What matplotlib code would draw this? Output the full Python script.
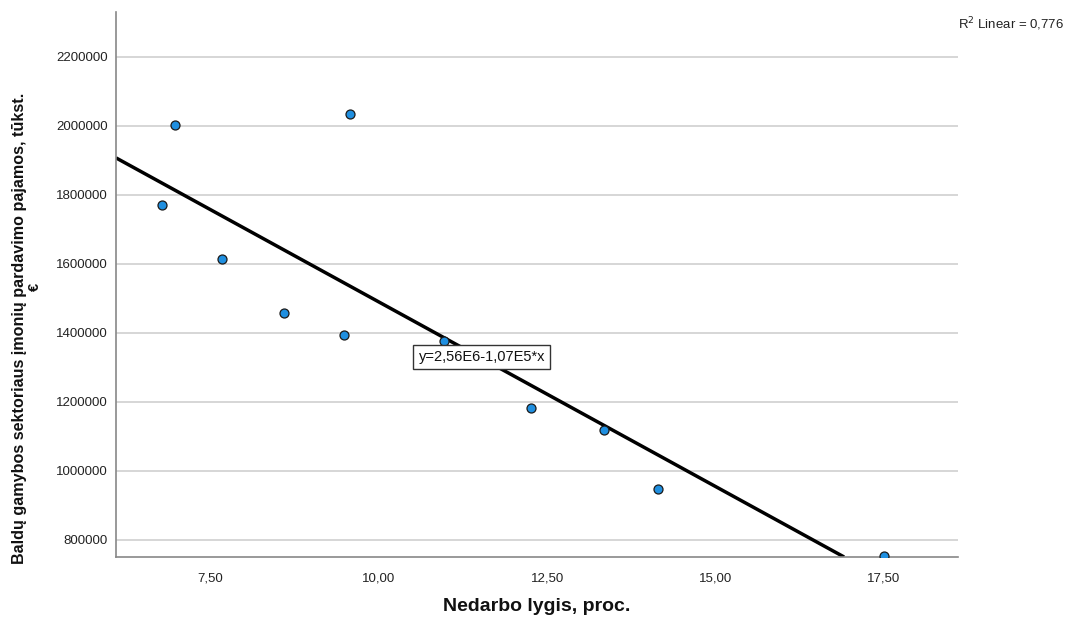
import matplotlib
matplotlib.use("Agg")
import matplotlib.pyplot as plt
import numpy as np
from matplotlib.ticker import FuncFormatter

unemployment = [6.79, 6.98, 7.68, 8.59, 9.48, 9.57, 10.97, 12.26, 13.35, 14.15, 17.50]
revenue = [1771000, 2003000, 1614000, 1458000, 1394000, 2035000, 1377000, 1183000, 1119000, 948000, 753000]
intercept = 2.56e6
slope = -1.07e5
x_ticks = [7.5, 10.0, 12.5, 15.0, 17.5]
y_ticks = [800000, 1000000, 1200000, 1400000, 1600000, 1800000, 2000000, 2200000]

plt.rcParams['font.family'] = ['Liberation Sans', 'DejaVu Sans']
fig = plt.figure(figsize=(10.70, 6.22), dpi=100)
ax = fig.add_axes([116/1070, 1 - 557/622, (958-116)/1070, (557-12)/622])

xmin, xmax = 6.10, 18.6
ymin, ymax = 750700, 2330000
ax.set_xlim(xmin, xmax)
ax.set_ylim(ymin, ymax)

for yt in y_ticks:
    ax.axhline(yt, color='#d0d0d0', lw=1.2, zorder=1)

xs = np.array([xmin, (ymin - intercept) / slope])
ax.plot(xs, intercept + slope * xs, color='black', lw=2.5, zorder=2, solid_capstyle='butt')

ax.scatter(unemployment, revenue, s=42, color='#1f8fe0', edgecolor='#1a1a1a', linewidth=0.9, zorder=3, clip_on=True)

ax.set_xticks(x_ticks)
ax.set_yticks(y_ticks)
ax.xaxis.set_major_formatter(FuncFormatter(lambda v, p: f"{v:.2f}".replace('.', ',')))
ax.yaxis.set_major_formatter(FuncFormatter(lambda v, p: f"{int(v)}"))
ax.tick_params(length=0, labelsize=9.5, colors='#222222')
ax.tick_params(axis='y', pad=6)
ax.tick_params(axis='x', pad=11)

for s in ['top', 'right']:
    ax.spines[s].set_visible(False)
for s in ['left', 'bottom']:
    ax.spines[s].set_color('#888888')
    ax.spines[s].set_linewidth(1.2)

ax.set_xlabel("Nedarbo lygis, proc.", fontsize=14, fontweight='bold', color='#111111', labelpad=10)
fig.text(20/1070, 1 - 328/622, "Baldų gamybos sektoriaus įmonių pardavimo pajamos, tūkst.",
         rotation=90, fontsize=11.6, fontweight='bold', ha='center', va='center', color='#111111')
fig.text(35/1070, 1 - 287/622, "€", rotation=90, fontsize=10.5, fontweight='bold',
         ha='center', va='center', color='#111111')

ax.text(11.53, 1330000, "y=2,56E6-1,07E5*x", fontsize=10.5, ha='center', va='center', color='#111111',
        bbox=dict(boxstyle='square,pad=0.35', facecolor='white', edgecolor='#333333', lw=1), zorder=4)

fig.text(1064/1070, 1 - 24/622, r"R$^2$ Linear = 0,776", fontsize=9.5, ha='right', va='center', color='#222222')

fig.savefig("out.png", dpi=100)
